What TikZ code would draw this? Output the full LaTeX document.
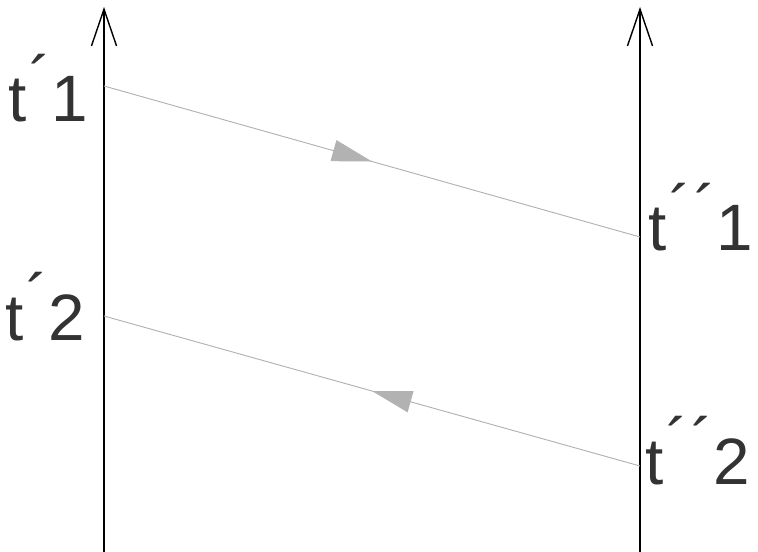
\documentclass[tikz,border=0pt]{standalone}
\usepackage{fontspec}
\setmainfont{Liberation Sans}
\usetikzlibrary{arrows.meta,decorations.markings}

\newcommand{\tick}{\hspace{0.05em}\raisebox{0.3em}{´}}
\tikzset{
	axis/.style={line width=2pt, -{Straight Barb[length=11mm, width=7.5mm, line width=1.2pt]}},
	signal/.style={gray!60, line width=0.8pt, postaction={decorate}, decoration={markings,
		mark=at position 0.5 with {\arrow{Triangle[length=12mm, width=6.5mm, fill=gray!60]}}}},
	stamp/.style={anchor=base west, inner sep=0pt, font=\fontsize{56}{56}\selectfont, text=black!80}
}

\begin{document}
\begin{tikzpicture}[x=0.3mm, y=-0.3mm]
	\useasboundingbox (0,0) rectangle (758,552);
	% the two clocks
	\coordinate (Abot) at (104,552); \coordinate (Atop) at (104,7);
	\coordinate (Bbot) at (640,552); \coordinate (Btop) at (640,7);
	\draw[axis] (Abot) -- (Atop);
	\draw[axis] (Bbot) -- (Btop);
	% send and return events
	\coordinate (A1) at (104,86);  \coordinate (B1) at (640,237);
	\coordinate (A2) at (104,316); \coordinate (B2) at (640,466);
	\draw[signal] (A1) -- (B1);
	\draw[signal] (B2) -- (A2);
	\node[stamp] (tA1) at (8,122) {t\tick1};
	\node[stamp] (tA2) at (5,340) {t\tick2};
	\node[stamp] (tB1) at (648,251) {t\tick\tick1};
	\node[stamp] (tB2) at (645,484) {t\tick\tick2};
\end{tikzpicture}
\end{document}
